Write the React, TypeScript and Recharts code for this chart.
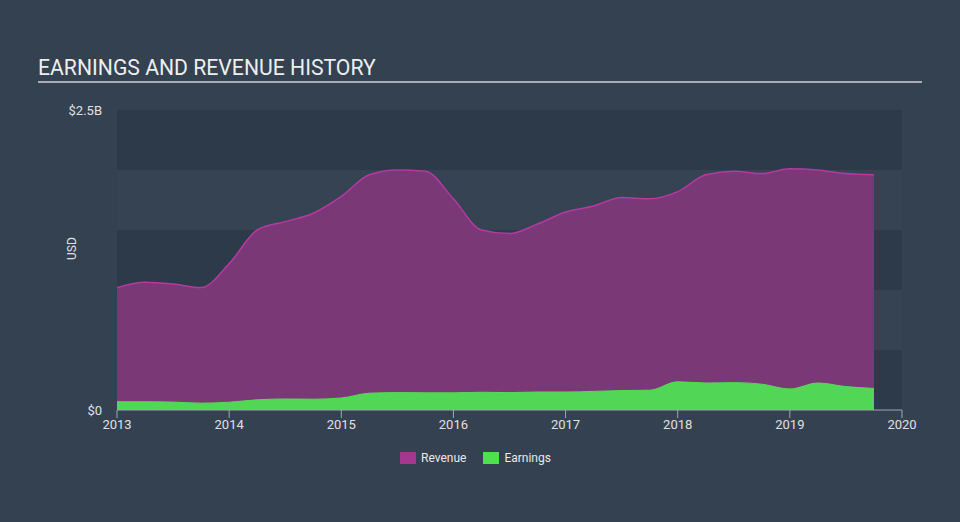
import React from "react";
import { ComposedChart, Area, XAxis, YAxis, ReferenceArea, Label } from "recharts";

// time in years since 2013 (quarterly)
const periods = [0, 0.25, 0.5, 0.75, 1, 1.25, 1.5, 1.75, 2, 2.25, 2.5, 2.75, 3, 3.25, 3.5, 3.75, 4, 4.25, 4.5, 4.75, 5, 5.25, 5.5, 5.75, 6, 6.25, 6.5, 6.75];
// USD billions
const revenue = [1.02, 1.065, 1.05, 1.02, 1.22, 1.5, 1.57, 1.64, 1.78, 1.96, 2.0, 1.99, 1.76, 1.5, 1.47, 1.55, 1.65, 1.7, 1.77, 1.76, 1.82, 1.96, 1.99, 1.97, 2.01, 2.0, 1.97, 1.96];
const earnings = [0.069, 0.069, 0.066, 0.057, 0.065, 0.085, 0.092, 0.09, 0.1, 0.14, 0.145, 0.143, 0.143, 0.148, 0.145, 0.15, 0.15, 0.155, 0.162, 0.165, 0.235, 0.225, 0.228, 0.215, 0.175, 0.225, 0.195, 0.18];
const xTicks = [0, 1, 2, 3, 4, 5, 6, 7];
const baseYear = 2013;
const yTicks = [0, 2.5];
const yTickLabels = ["$0", "$2.5B"];
const bands = [
  [0, 0.5],
  [0.5, 1],
  [1, 1.5],
  [1.5, 2],
  [2, 2.5],
];
const legendItems = [
  { name: "Revenue", color: "#a6378f" },
  { name: "Earnings", color: "#4fe04f" },
];

const data = periods.map((t, i) => ({ t, revenue: revenue[i], earnings: earnings[i] }));

const BG = "#344150";
const DARK = "#2d3a49";
const LIGHT = "#354353";
const FONT = "Roboto, sans-serif";

export default function App() {
  return (
    <div
      style={{
        position: "absolute",
        left: 0,
        top: 0,
        width: 960,
        height: 522,
        background: BG,
        fontFamily: FONT,
        overflow: "hidden",
      }}
    >
      <div
        style={{
          position: "absolute",
          left: 38,
          top: 55,
          fontSize: 21.2,
          color: "#eeeeee",
          lineHeight: "26px",
          whiteSpace: "nowrap",
        }}
      >
        EARNINGS AND REVENUE HISTORY
      </div>
      <div
        style={{
          position: "absolute",
          left: 38,
          top: 81,
          width: 884,
          height: 2,
          background: "#a9adb3",
        }}
      />
      <div style={{ position: "absolute", left: 0, top: 0 }}>
        <ComposedChart
          width={960}
          height={522}
          data={data}
          margin={{ top: 110, right: 58, bottom: 82, left: 0 }}
        >
          {bands.map((b, i) => (
            <ReferenceArea
              key={i}
              x1={0}
              x2={7}
              y1={b[0]}
              y2={b[1]}
              fill={i % 2 === 0 ? DARK : LIGHT}
              fillOpacity={1}
              stroke="none"
              ifOverflow="extendDomain"
            />
          ))}
          <XAxis
            dataKey="t"
            type="number"
            domain={[0, 7]}
            ticks={xTicks}
            tickFormatter={(v: number) => String(baseYear + v)}
            height={30}
            stroke="#a0a7b0"
            tickSize={8}
            tickMargin={2}
            tick={{ fill: "#e0e0e0", fontSize: 13, fontFamily: FONT }}
          />
          <YAxis
            type="number"
            domain={[0, 2.5]}
            ticks={yTicks}
            tickFormatter={(v: number) => yTickLabels[yTicks.indexOf(v)]}
            width={117}
            axisLine={false}
            tickLine={false}
            tickSize={0}
            tickMargin={15}
            tick={{ fill: "#e0e0e0", fontSize: 13, fontFamily: FONT }}
          >
            <Label
              value="USD"
              angle={-90}
              position="insideLeft"
              offset={72}
              style={{ fill: "#e0e0e0", fontSize: 12, fontFamily: FONT }}
            />
          </YAxis>
          <Area
            type="monotone"
            dataKey="revenue"
            stroke="#b33aa0"
            strokeWidth={1.5}
            fill="#7b3877"
            fillOpacity={1}
            isAnimationActive={false}
            dot={false}
            activeDot={false}
          />
          <Area
            type="monotone"
            dataKey="earnings"
            stroke="#55dc55"
            strokeWidth={1}
            fill="#52d655"
            fillOpacity={1}
            isAnimationActive={false}
            dot={false}
            activeDot={false}
          />
        </ComposedChart>
      </div>
      <div
        style={{
          position: "absolute",
          top: 451,
          left: 400,
          display: "flex",
          alignItems: "center",
          fontSize: 12,
          color: "#e8e8e8",
        }}
      >
        {legendItems.map((it) => (
          <div key={it.name} style={{ display: "flex", alignItems: "center", marginRight: 17 }}>
            <div style={{ width: 16, height: 12, background: it.color, marginRight: 5 }} />
            <span>{it.name}</span>
          </div>
        ))}
      </div>
    </div>
  );
}
